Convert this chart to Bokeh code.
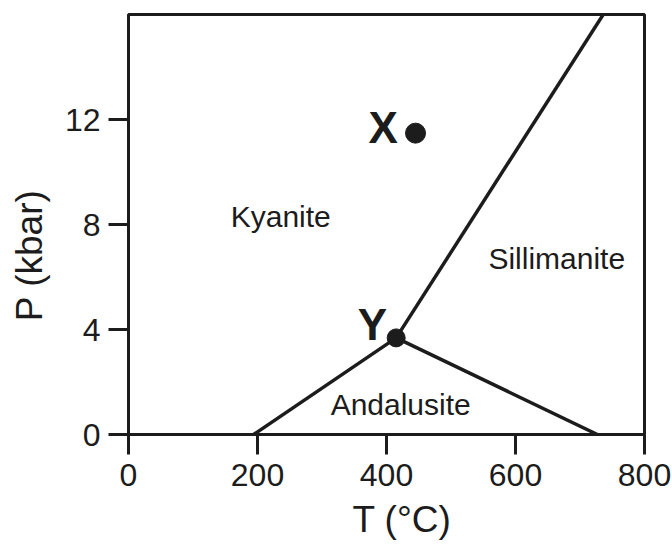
from bokeh.plotting import figure
from bokeh.models import Range1d, FixedTicker, ColumnDataSource
from bokeh.core.properties import value
from bokeh.embed import file_html
from bokeh.resources import INLINE

# ---- data ----
x_ticks = [0, 200, 400, 600, 800]
y_ticks = [0, 4, 8, 12]

# phase boundaries (T in degC, P in kbar)
ky_and_T = [194, 415]
ky_and_P = [0, 3.68]
and_sil_T = [415, 727]
and_sil_P = [3.68, 0]
ky_sil_T = [415, 736]
ky_sil_P = [3.68, 16]

point_names = ["X", "Y"]
point_T = [445, 415]
point_P = [11.48, 3.68]
point_size = [20, 18]

field_names = ["Kyanite", "Andalusite", "Sillimanite"]
field_T = [236, 422, 664]
field_P = [8.30, 1.15, 6.71]

letter_T = [395, 378]
letter_P = [11.68, 4.19]

x_title = "T (°C)"
y_title = "P (kbar)"

FONT = "Liberation Sans"
INK = "#1c1c1c"
NB = "\u00a0"

p = figure(width=672, height=544, output_backend="svg", toolbar_location=None,
           x_range=Range1d(0, 800), y_range=Range1d(0, 16),
           min_border_left=128, min_border_right=28, min_border_top=14,
           min_border_bottom=110)

p.xgrid.visible = False
p.ygrid.visible = False
p.outline_line_color = INK
p.outline_line_width = 3
p.background_fill_color = "white"
p.border_fill_color = "white"

for ax in (p.xaxis[0], p.yaxis[0]):
    ax.axis_line_color = INK
    ax.axis_line_width = 3
    ax.major_tick_line_color = INK
    ax.major_tick_line_width = 3
    ax.major_tick_out = 20
    ax.major_tick_in = 0
    ax.minor_tick_line_color = None
    ax.major_label_text_font = FONT
    ax.major_label_text_font_size = "32px"
    ax.major_label_text_color = INK
    ax.axis_label_text_font = FONT
    ax.axis_label_text_font_size = "37px"
    ax.axis_label_text_font_style = "normal"
    ax.axis_label_text_color = INK
p.xaxis[0].ticker = FixedTicker(ticks=x_ticks)
p.yaxis[0].ticker = FixedTicker(ticks=y_ticks)
p.xaxis[0].major_label_standoff = 9
p.yaxis[0].major_label_standoff = 8
p.xaxis[0].axis_label = NB * 3 + x_title
p.yaxis[0].axis_label = y_title + NB * 6
p.xaxis[0].axis_label_standoff = 10
p.yaxis[0].axis_label_standoff = 12

# boundaries
p.line(ky_and_T, ky_and_P, line_color=INK, line_width=3.5)
p.line(and_sil_T, and_sil_P, line_color=INK, line_width=3.5)
p.line(ky_sil_T, ky_sil_P, line_color=INK, line_width=3.5)

# points
src = ColumnDataSource(dict(T=point_T, P=point_P, s=point_size))
p.scatter("T", "P", size="s", source=src, fill_color=INK, line_color=INK)

# field labels
p.text(field_T, field_P, text=field_names, text_font=value(FONT),
       text_font_size="30px", text_align="center", text_baseline="alphabetic",
       text_color=INK)

# point letters
p.text(letter_T, letter_P, text=point_names, text_font=value(FONT),
       text_font_size="44px", text_font_style="bold", text_align="center",
       text_baseline="alphabetic", text_color=INK)

open("out.html", "w").write(file_html(p, INLINE))
